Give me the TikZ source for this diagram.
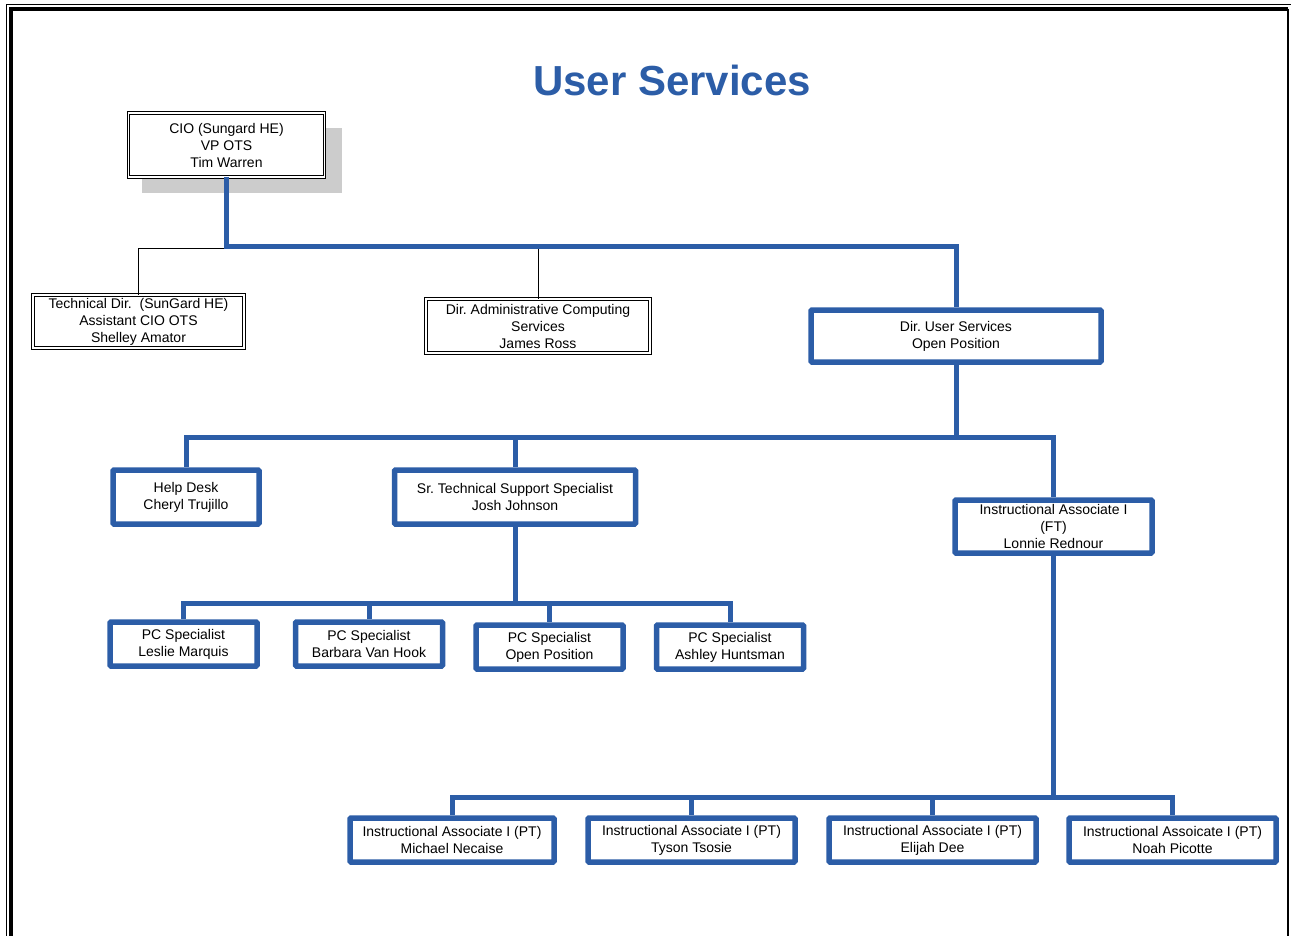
\documentclass[tikz,border=0pt]{standalone}
\usepackage{fontspec}
\setmainfont{Liberation Sans}
\usetikzlibrary{shadows}
\definecolor{usblue}{RGB}{44,93,167}
\begin{document}
\begin{tikzpicture}
  [x=1pt,y=-1pt,every node/.style={align=center,inner sep=0pt,font=\frenchspacing\fontsize{14}{17}\selectfont}]
  \tikzstyle{exec} = [draw=black,double,line width=.9pt,double distance=1.8pt,rectangle,fill=white]
  \tikzstyle{unit} = [draw=usblue,line width=5.5pt,rectangle,rounded corners=1pt,fill=white]
  \tikzstyle{bus} = [draw=usblue,line width=5pt]
  \useasboundingbox (0,0) rectangle (1291,936);
  % page frame
  \draw[line width=1.2pt] (6.5,940) -- (6.5,4.5) -- (1295,4.5);
  \draw[line width=3.8pt] (10.8,940) -- (10.8,9) -- (1288,9);
  \draw[line width=1.5pt] (1288,9) -- (1288,940);
  \node[text=usblue,font=\bfseries\fontsize{42}{50}\selectfont] (title) at (672,80) {User Services};
  \node[exec,minimum width=196pt,minimum height=64pt,
        drop shadow={shadow xshift=15pt,shadow yshift=-15pt,fill=black!20,opacity=1,shadow scale=1.02}]
        (cio) at (226.5,145) {CIO (Sungard HE)\\VP OTS\\Tim Warren};
  \node[exec,minimum width=211pt,minimum height=53pt] (tech) at (138.5,321.5) {Technical Dir.\ \ (SunGard HE)\\Assistant CIO OTS\\Shelley Amator};
  \node[exec,minimum width=224pt,minimum height=54pt] (admin) at (538,326) {Dir. Administrative Computing\\Services\\James Ross};
  \node[unit,minimum width=290pt,minimum height=52pt] (dus) at (956,336) {Dir. User Services\\Open Position};
  \node[unit,minimum width=146pt,minimum height=54pt] (help) at (186,497) {Help Desk\\Cheryl Trujillo};
  \node[unit,minimum width=241pt,minimum height=54pt] (sts) at (515,497) {Sr. Technical Support Specialist\\Josh Johnson};
  \node[unit,minimum width=197pt,minimum height=53pt] (iaft) at (1053.5,526.5) {Instructional Associate I\\(FT)\\Lonnie Rednour};
  \node[unit,minimum width=147pt,minimum height=44pt] (pc1) at (183.5,644) {PC Specialist\\Leslie Marquis};
  \node[unit,minimum width=147pt,minimum height=44pt] (pc2) at (369,644) {PC Specialist\\Barbara Van Hook};
  \node[unit,minimum width=147pt,minimum height=44pt] (pc3) at (549.5,647) {PC Specialist\\Open Position};
  \node[unit,minimum width=147pt,minimum height=44pt] (pc4) at (730,647) {PC Specialist\\Ashley Huntsman};
  \node[unit,minimum width=204pt,minimum height=44pt] (ia1) at (452,840) {Instructional Associate I (PT)\\Michael Necaise};
  \node[unit,minimum width=207pt,minimum height=44pt] (ia2) at (691.5,840) {Instructional Associate I (PT)\\Tyson Tsosie};
  \node[unit,minimum width=207pt,minimum height=44pt] (ia3) at (932.5,840) {Instructional Associate I (PT)\\Elijah Dee};
  \node[unit,minimum width=207pt,minimum height=44pt] (ia4) at (1172.5,840) {Instructional Assoicate I (PT)\\Noah Picotte};
  % junctions of the connector lines
  \coordinate (j0) at (225,248);
  \coordinate (j1) at (226.5,246.5);
  \coordinate (j2) at (956,437);
  \coordinate (j3) at (515,603);
  \coordinate (j4) at (1053.5,797);
  \draw (cio.south -| j0) -- (j0);
  \foreach \dest in {tech,admin}
   \draw (j0) -| (\dest);
  \draw[bus] (cio) -- (j1) -| (dus);
  \draw[bus] (dus) -- (j2);
  \foreach \dest in {help,sts,iaft}
   \draw[bus] (j2) -| (\dest);
  \draw[bus] (sts) -- (j3);
  \foreach \dest in {pc1,pc2,pc3,pc4}
   \draw[bus] (j3) -| (\dest);
  \draw[bus] (iaft) -- (j4);
  \foreach \dest in {ia1,ia2,ia3,ia4}
   \draw[bus] (j4) -| (\dest);
\end{tikzpicture}
\end{document}
